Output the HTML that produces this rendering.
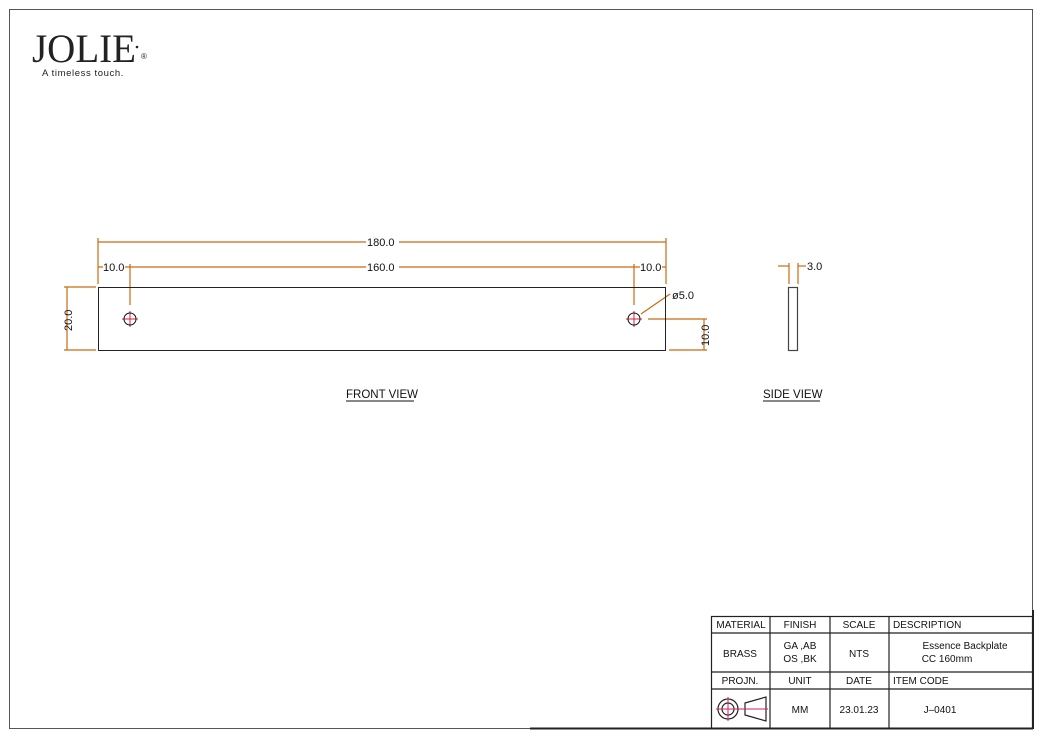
<!DOCTYPE html>
<html><head><meta charset="utf-8"><style>
body{margin:0;background:#fff;width:1044px;height:738px;overflow:hidden}
svg{display:block}
text{font-family:"Liberation Sans",sans-serif}
</style></head><body>
<svg width="1044" height="738" viewBox="0 0 1044 738">
<rect x="9.5" y="9.5" width="1023" height="719" fill="none" stroke="#555" stroke-width="1"/>
<line x1="530" y1="728.5" x2="1033" y2="728.5" stroke="#222" stroke-width="2"/>
<line x1="1033" y1="610" x2="1033" y2="729" stroke="#222" stroke-width="2"/>
<text x="32" y="62" style="font-family:'Liberation Serif',serif" font-size="40" fill="#222" textLength="104" lengthAdjust="spacingAndGlyphs">JOLIE</text>
<circle cx="137" cy="47" r="1.3" fill="#222"/>
<text x="141" y="59" font-size="8" fill="#222">®</text>
<text x="42" y="76" font-size="9.5" fill="#222" letter-spacing="0.6">A timeless touch.</text>

<g stroke="#c96a10" stroke-width="1.2" fill="none">
<line x1="98" y1="242" x2="666" y2="242"/>
<line x1="98" y1="238" x2="98" y2="284"/>
<line x1="666" y1="238" x2="666" y2="284"/>
<line x1="98" y1="267" x2="634" y2="267"/>
<line x1="130" y1="264" x2="130" y2="305"/>
<line x1="634" y1="264" x2="634" y2="305"/>
<line x1="634" y1="267" x2="666" y2="267"/>
<line x1="67" y1="287" x2="67" y2="350"/>
<line x1="64" y1="287" x2="96" y2="287"/>
<line x1="64" y1="350" x2="96" y2="350"/>
<line x1="704" y1="319" x2="704" y2="350"/>
<line x1="648" y1="319" x2="707" y2="319"/>
<line x1="669" y1="350" x2="707" y2="350"/>
<line x1="641" y1="314" x2="670" y2="294"/>
<line x1="778" y1="266" x2="789" y2="266"/>
<line x1="789" y1="263" x2="789" y2="284"/>
<line x1="798" y1="263" x2="798" y2="284"/>
<line x1="798" y1="266" x2="806" y2="266"/>
</g>
<g font-size="11" fill="#111">
<rect x="366" y="236" width="33" height="12" fill="#fff"/>
<text x="367" y="246">180.0</text>
<rect x="366" y="261" width="33" height="12" fill="#fff"/>
<text x="367" y="271">160.0</text>
<rect x="103" y="261" width="22" height="12" fill="#fff"/>
<text x="103" y="271">10.0</text>
<rect x="640" y="261" width="22" height="12" fill="#fff"/>
<text x="640" y="271">10.0</text>
<text x="672" y="299">ø5.0</text>
<text x="807" y="270">3.0</text>
<text transform="translate(72,331) rotate(-90)">20.0</text>
<text transform="translate(709,346) rotate(-90)">10.0</text>
<text x="346" y="398" font-size="11.5">FRONT VIEW</text>
<text x="763" y="398" font-size="11.5">SIDE VIEW</text>
</g>
<line x1="346" y1="401" x2="414" y2="401" stroke="#111"/>
<line x1="763" y1="401" x2="820" y2="401" stroke="#111"/>

<rect x="98.5" y="287.5" width="567" height="63" fill="none" stroke="#222"/>
<rect x="788.5" y="287.5" width="9" height="63" fill="none" stroke="#444" stroke-width="1.2"/>
<g stroke="#e0203a" stroke-width="1">
<line x1="122" y1="319" x2="138" y2="319"/><line x1="130" y1="311" x2="130" y2="327"/>
<line x1="626" y1="319" x2="642" y2="319"/><line x1="634" y1="311" x2="634" y2="327"/>
</g>
<circle cx="130" cy="319" r="6" fill="none" stroke="#111"/>
<circle cx="634" cy="319" r="6" fill="none" stroke="#111"/>

<g stroke="#222" stroke-width="1.2" fill="none">
<rect x="711.5" y="616.5" width="321" height="112"/>
<line x1="711" y1="633" x2="1033" y2="633"/>
<line x1="711" y1="672" x2="1033" y2="672"/>
<line x1="711" y1="689" x2="1033" y2="689"/>
<line x1="770" y1="616" x2="770" y2="729"/>
<line x1="830" y1="616" x2="830" y2="729"/>
<line x1="889" y1="616" x2="889" y2="729"/>
<circle cx="728" cy="709" r="10"/><circle cx="728" cy="709" r="6"/>
<path d="M745 703 L766 697 L766 721 L745 715 Z"/>
</g>
<g stroke="#d0206a" stroke-width="1">
<line x1="716" y1="709" x2="768" y2="709"/><line x1="728" y1="697" x2="728" y2="721"/>
</g>
<g font-size="10" fill="#111" text-anchor="middle">
<text x="741" y="628">MATERIAL</text>
<text x="800" y="628">FINISH</text>
<text x="859" y="628">SCALE</text>
<text x="893" y="628" text-anchor="start">DESCRIPTION</text>
<text x="740" y="657">BRASS</text>
<text x="800" y="649">GA ,AB</text>
<text x="800" y="662">OS ,BK</text>
<text x="859" y="657">NTS</text>
<text x="965" y="649">Essence Backplate</text>
<text x="947" y="662">CC 160mm</text>
<text x="740" y="684">PROJN.</text>
<text x="800" y="684">UNIT</text>
<text x="859" y="684">DATE</text>
<text x="893" y="684" text-anchor="start">ITEM CODE</text>
<text x="800" y="713">MM</text>
<text x="859" y="713">23.01.23</text>
<text x="940" y="713">J–0401</text>
</g>
</svg>
</body></html>
